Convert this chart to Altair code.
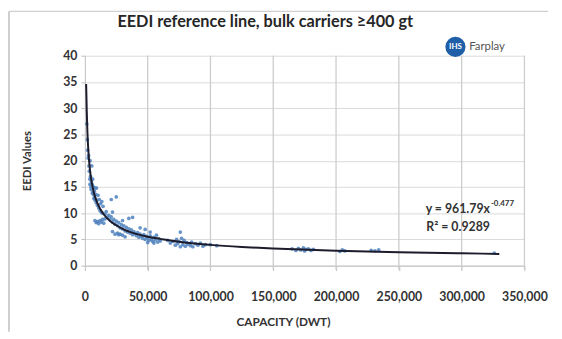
import altair as alt
import pandas as pd

# Scatter data: capacity (thousand DWT) and EEDI value
cap_k = [1.5, 2, 2.2, 2.5, 3, 3.2, 3.5, 3.8, 4, 4.2, 4.5, 4.8, 5, 5.2, 5.5, 5.8, 6, 6.3, 6.5, 6.8,
         7, 7.2, 7.5, 7.8, 8, 8.3, 8.6, 9, 9.3, 9.6, 10, 10.5, 11, 11.5, 12, 12.5, 13, 13.5, 14, 14.5,
         8, 9, 10, 11, 12, 13, 14, 15, 16,
         21, 25, 38,
         16, 17, 18, 19, 20, 21, 22, 23, 24, 25, 26, 27, 28, 29, 30, 31, 32, 33, 34, 35, 36, 37, 38, 39,
         40, 41, 42, 43, 44, 45, 46, 47, 48, 49, 50, 51, 52, 53, 54, 55, 56, 57, 58, 59, 60,
         26, 28, 30, 32, 35, 22, 30, 44, 48, 52, 50, 55, 22, 24, 27,
         66, 68, 70, 72, 73, 74, 75, 76, 76, 77, 78, 79, 80, 81, 82, 84, 85, 86, 88, 90, 92, 94, 96, 100, 105,
         165, 168, 170, 172, 174, 175, 176, 178, 180, 182, 203, 205, 207, 228, 231, 234, 326]
eedi = [27, 24, 22, 20.5, 21, 19, 18, 16.5, 15.5, 20, 17, 15, 14.5, 16, 19, 15.5, 13.8, 16.5, 14, 15,
        13.5, 12.8, 14.2, 13, 12.5, 14.8, 13.6, 12, 14.8, 12.5, 11.5, 13.4, 11, 12.6, 10.5, 11.8, 10.2, 12.2, 10, 11.3,
        8.6, 8.2, 8.4, 8.0, 8.6, 8.3, 8.8, 8.1, 8.9,
        12.6, 13.1, 9.2,
        9.8, 10.3, 9.2, 9.6, 8.8, 9.3, 8.3, 8.8, 7.9, 8.5, 7.6, 8.2, 7.2, 7.8, 7.0, 7.6, 6.6, 7.3, 6.4, 7.0, 6.2, 6.8, 5.9, 6.5,
        6.1, 5.7, 6.3, 5.4, 6.0, 5.6, 5.2, 5.9, 5.0, 5.6, 5.3, 4.8, 5.7, 5.0, 4.6, 5.4, 4.9, 5.8, 4.5, 5.1, 4.7,
        6.2, 6.0, 5.8, 5.5, 9.0, 10.2, 8.6, 7.2, 6.9, 6.4, 4.4, 4.3, 6.5, 6.0, 5.9,
        4.8, 4.3, 4.6, 3.9, 5.0, 4.2, 4.6, 6.4, 3.6, 5.2, 4.0, 4.8, 3.7, 4.4, 4.1, 3.8, 4.5, 3.6, 4.2, 3.9, 4.3, 3.7, 4.0, 4.0, 3.8,
        3.2, 2.9, 3.3, 3.0, 3.4, 2.8, 3.1, 3.2, 2.9, 3.1, 2.7, 3.0, 2.8, 2.9, 2.8, 3.0, 2.4]

# Trend line points
trend_x = [1000, 1200, 1500, 2000, 2500, 3000, 4000, 5000, 6000, 7000, 8000, 10000, 12000, 15000,
           20000, 25000, 30000, 40000, 50000, 60000, 75000, 100000, 125000, 150000, 200000, 250000,
           300000, 330000]
trend_y = [34.6, 32.7, 29.4, 25.6, 23.0, 21.1, 18.4, 16.5, 15.2, 14.1, 13.2, 11.9, 10.9, 9.8,
           8.5, 7.7, 7.0, 6.1, 5.5, 5.1, 4.55, 3.96, 3.56, 3.27, 2.85, 2.56, 2.35, 2.24]

x_ticks = [0, 50000, 100000, 150000, 200000, 250000, 300000, 350000]
y_ticks = [0, 5, 10, 15, 20, 25, 30, 35, 40]

FONT = "Lato"
pts = pd.DataFrame({"cap": [v * 1000 for v in cap_k], "eedi": eedi})
trend = pd.DataFrame({"cap": trend_x, "eedi": trend_y})
grid_df = pd.DataFrame({"cap": x_ticks[1:], "lo": [-0.8] * 7, "hi": [40] * 7})

xscale = alt.Scale(domain=[0, 350000], nice=False)
yscale = alt.Scale(domain=[0, 40], nice=False)

xaxis = alt.Axis(values=x_ticks, format=",.0f", grid=False,
                 title="CAPACITY (DWT)", titleFont=FONT,
                 titleFontSize=12, titleFontWeight="bold", titleColor="#333333",
                 titleX=201, titleY=52, titleAnchor="middle", labelFont=FONT, labelFontSize=12.5,
                 labelFontWeight="bold", labelColor="#333333", labelPadding=20, tickSize=5,
                 tickColor="#bfbfbf", domainColor="#bfbfbf", labelFlush=False)
yaxis = alt.Axis(values=y_ticks, grid=True, title="EEDI Values", titleFont=FONT, titleFontSize=11.5,
                 titleFontWeight="bold", titleColor="#333333", titleX=-53, labelFont=FONT,
                 labelFontSize=12.5, labelFontWeight="bold", labelColor="#333333", labelPadding=4,
                 tickSize=4, tickColor="#bfbfbf", domainColor="#bfbfbf", gridColor="#d9d9d9")

vgrid = alt.Chart(grid_df).mark_rule(color="#cccccc", strokeWidth=1.3).encode(
    x=alt.X("cap:Q", scale=xscale, axis=xaxis),
    y=alt.Y("lo:Q", scale=yscale, axis=yaxis),
    y2="hi:Q",
)
scatter = alt.Chart(pts).mark_circle(size=14, color="#4F81BD", opacity=0.85).encode(
    x=alt.X("cap:Q", scale=xscale, axis=xaxis),
    y=alt.Y("eedi:Q", scale=yscale, axis=yaxis),
)
line = alt.Chart(trend).mark_line(color="#1c1c2c", strokeWidth=2, interpolate="monotone").encode(
    x=alt.X("cap:Q", scale=xscale, axis=xaxis),
    y=alt.Y("eedi:Q", scale=yscale, axis=yaxis),
)

def label(text, x, y, size, align="center", color="#333333", weight="bold", font=FONT):
    return alt.Chart(pd.DataFrame({"t": [text]})).mark_text(
        align=align, baseline="middle", fontSize=size, fontWeight=weight, color=color, font=font
    ).encode(text="t:N", x=alt.value(x), y=alt.value(y))

title = label("EEDI reference line, bulk carriers \u2265400 gt", 183, -34, 16.5, color="#262626")
eq1 = label("y = 961.79x", 411, 156, 12.5, align="right")
eq_sup = label("-0.477", 412, 150, 8, align="left")
r2 = label("R\u00b2 = 0.9289", 411, 174, 12.5, align="right")

logo_circle = alt.Chart(pd.DataFrame({"a": [1]})).mark_point(
    filled=True, size=420, color="#1f5fa8", opacity=1, shape="circle"
).encode(x=alt.value(376), y=alt.value(-9))
logo_ihs = label("IHS", 376, -9, 8, color="white")
logo_txt = label("Farplay", 390, -9, 11.5, align="left", color="#555555", weight="normal")

border_left = alt.Chart(pd.DataFrame({"a": [1]})).mark_rule(color="#bfbfbf", strokeWidth=1.5).encode(
    x=alt.value(-77), y=alt.value(-45), y2=alt.value(280))
border_top = alt.Chart(pd.DataFrame({"a": [1]})).mark_rule(color="#d0d0d0", strokeWidth=1.5).encode(
    x=alt.value(-77), x2=alt.value(470), y=alt.value(-45))

chart = alt.layer(vgrid, scatter, line, title, eq1, eq_sup, r2, logo_circle, logo_ihs, logo_txt,
                  border_left, border_top).properties(
    width=446, height=213,
    autosize=alt.AutoSizeParams(type="none"),
    padding={"left": 78, "top": 46, "right": 30, "bottom": 72},
    background="white",
).configure_view(stroke=None)

chart.save("out.html", embed_options={"renderer": "svg", "actions": False})
